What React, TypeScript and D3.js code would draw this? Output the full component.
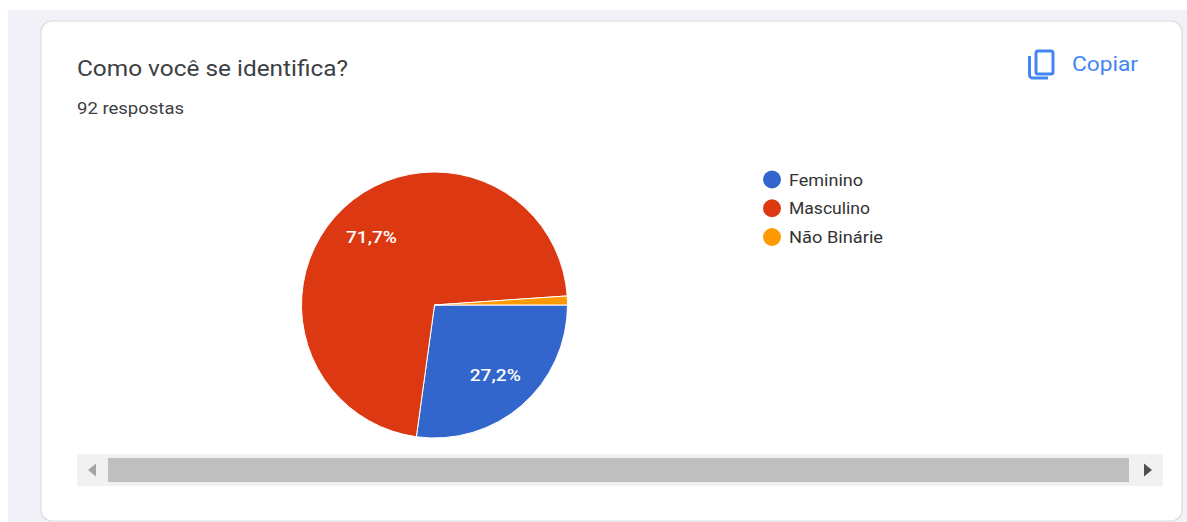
import React from "react";
import * as d3 from "d3";

const categories = ["Feminino", "Masculino", "Não Binárie"];
const responses = [25, 66, 1];
const sliceLabels = ["27,2%", "71,7%", ""];
const colors = ["#3366cc", "#dc3912", "#ff9900"];

const title = "Como você se identifica?";
const subtitle = "92 respostas";
const copyLabel = "Copiar";
const legendWidths = [74, 81, 94];

const W = 1187;
const H = 522;
const FONT = "Roboto, Arial, sans-serif";

export default function App() {
  const cx = 434.5;
  const cy = 305;
  const r = 133;
  const pie = d3
    .pie<number>()
    .sort(null)
    .startAngle(Math.PI / 2)
    .endAngle(Math.PI / 2 + 2 * Math.PI);
  const arcs = pie(responses);
  const arc = d3.arc<d3.PieArcDatum<number>>().innerRadius(0).outerRadius(r);
  const labelArc = d3
    .arc<d3.PieArcDatum<number>>()
    .innerRadius(r * 0.695)
    .outerRadius(r * 0.695);

  const legendY = d3.scalePoint<string>().domain(categories).range([179.5, 237]);

  return (
    <svg
      width={W}
      height={H}
      viewBox={`0 0 ${W} ${H}`}
      style={{ position: "fixed", left: 0, top: 0, display: "block" }}
    >
      <rect x={0} y={0} width={W} height={H} fill="#ffffff" />
      <rect x={8} y={10} width={W - 8} height={H - 10} fill="#f2f1f8" />
      {/* card */}
      <rect x={41} y={21} width={1141} height={500} rx={11} fill="#ffffff" stroke="#dadce0" strokeWidth={1.2} />

      <text x={77} y={76} fontFamily={FONT} fontSize={22} fill="#3c4043" textLength={271} lengthAdjust="spacingAndGlyphs">{title}</text>
      <text x={77} y={114} fontFamily={FONT} fontSize={16} fill="#3c4043" textLength={107} lengthAdjust="spacingAndGlyphs">{subtitle}</text>

      {/* copy button */}
      <g fill="none" stroke="#4285f4" strokeWidth={3}>
        <rect x={1036} y={51} width={17} height={23} rx={2} />
        <path d="M1029.5 56 V75 a3 3 0 0 0 3 3 H1048" />
      </g>
      <text x={1072} y={71} fontFamily={FONT} fontSize={20} fontWeight={400} fill="#4285f4" textLength={66} lengthAdjust="spacingAndGlyphs">{copyLabel}</text>

      {/* pie */}
      <g transform={`translate(${cx},${cy})`}>
        {arcs.map((d, i) => (
          <path key={categories[i]} d={arc(d) ?? ""} fill={colors[i]} stroke="#ffffff" strokeWidth={1} />
        ))}
        {arcs.map((d, i) => {
          if (!sliceLabels[i]) return null;
          const [x, y] = labelArc.centroid(d);
          return (
            <text
              key={sliceLabels[i]}
              x={x}
              y={y}
              textAnchor="middle"
              dominantBaseline="central"
              fontFamily={FONT}
              fontSize={17}
              fontWeight={500}
              fill="#ffffff"
              textLength={51}
              lengthAdjust="spacingAndGlyphs"
            >
              {sliceLabels[i]}
            </text>
          );
        })}
      </g>

      {/* legend */}
      {categories.map((c, i) => (
        <g key={c}>
          <circle cx={772} cy={legendY(c)} r={9} fill={colors[i]} />
          <text
            x={789}
            y={legendY(c)}
            dominantBaseline="central"
            fontFamily={FONT}
            fontSize={17}
            fill="#333333"
            textLength={legendWidths[i]}
            lengthAdjust="spacingAndGlyphs"
          >
            {c}
          </text>
        </g>
      ))}

      {/* horizontal scrollbar */}
      <rect x={77} y={454} width={1086} height={32} fill="#f1f1f1" />
      <rect x={108} y={458} width={1021} height={24} fill="#bfbfbf" />
      <path d="M88 470 L96 463.5 V476.5 Z" fill="#a3a3a3" />
      <path d="M1152 470 L1144 463.5 V476.5 Z" fill="#505050" />
    </svg>
  );
}
